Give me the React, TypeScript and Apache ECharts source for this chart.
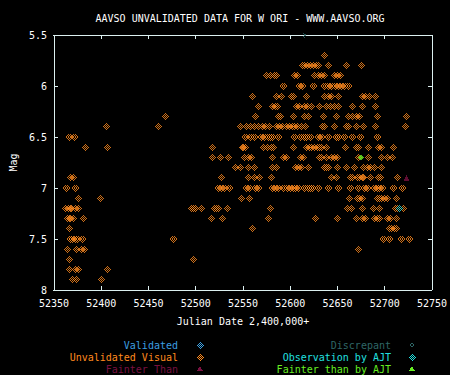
import React, { useEffect, useRef } from "react";
import * as echarts from "echarts";

// ---- data: Julian dates (2,400,000+) of unvalidated visual estimates, one array per magnitude row
const v57 = [52636];
const v58 = [52613, 52615, 52618, 52622, 52625, 52628, 52630, 52640, 52660, 52675];
const v59 = [52575, 52579, 52583, 52586, 52605, 52608, 52626, 52630, 52633, 52636, 52647, 52650, 52653];
const v60 = [52593, 52610, 52613, 52625, 52636, 52641, 52644, 52648, 52651, 52654, 52657, 52662];
const v61 = [52560, 52585, 52591, 52601, 52604, 52617, 52636, 52640, 52644, 52651, 52677, 52680, 52684, 52690];
const v62 = [52566, 52581, 52584, 52587, 52607, 52610, 52615, 52618, 52623, 52631, 52638, 52643, 52647, 52651, 52666, 52677, 52690];
const v63 = [52468, 52563, 52588, 52590, 52604, 52615, 52619, 52635, 52649, 52662, 52666, 52670, 52673, 52692, 52723];
const v64 = [52406, 52461, 52547, 52554, 52558, 52562, 52566, 52571, 52574, 52578, 52586, 52589, 52592, 52596, 52599, 52602, 52605, 52608, 52612, 52616, 52634, 52636, 52647, 52660, 52662, 52670, 52678, 52690, 52722];
const v65 = [52366, 52372, 52553, 52558, 52562, 52570, 52573, 52577, 52579, 52581, 52588, 52605, 52611, 52615, 52617, 52621, 52630, 52633, 52640, 52649, 52651, 52657, 52666, 52674, 52692];
const v66 = [52383, 52407, 52518, 52549, 52551, 52553, 52572, 52576, 52580, 52582, 52604, 52617, 52620, 52623, 52626, 52629, 52631, 52633, 52638, 52659, 52670, 52672, 52683, 52693, 52697, 52709];
const v67 = [52518, 52526, 52535, 52552, 52556, 52559, 52581, 52593, 52596, 52611, 52614, 52631, 52633, 52638, 52644, 52647, 52650, 52672, 52683, 52697, 52703, 52708];
const v68 = [52542, 52547, 52556, 52562, 52581, 52585, 52606, 52609, 52612, 52619, 52636, 52638, 52640, 52650, 52660, 52668, 52678, 52682, 52685, 52689, 52697];
const v69 = [52368, 52371, 52527, 52556, 52562, 52567, 52580, 52644, 52649, 52664, 52666, 52671, 52673, 52677, 52678, 52685, 52693, 52696, 52714];
const v70 = [52363, 52373, 52524, 52527, 52530, 52536, 52554, 52557, 52563, 52566, 52581, 52584, 52588, 52593, 52597, 52600, 52604, 52606, 52609, 52615, 52619, 52622, 52624, 52630, 52641, 52651, 52664, 52672, 52679, 52682, 52689, 52692, 52694, 52698, 52709, 52719];
const v71 = [52376, 52399, 52548, 52557, 52663, 52671, 52673, 52676, 52692, 52694, 52697, 52700, 52703, 52713];
const v72 = [52362, 52365, 52367, 52369, 52373, 52376, 52496, 52498, 52500, 52506, 52520, 52522, 52524, 52534, 52579, 52661, 52665, 52677, 52688, 52695, 52711, 52714, 52720];
const v73 = [52364, 52366, 52368, 52371, 52381, 52517, 52528, 52577, 52627, 52650, 52670, 52677, 52680, 52689, 52692, 52695, 52703, 52706, 52713];
const v74 = [52366, 52560, 52705, 52707, 52710, 52713];
const v75 = [52368, 52370, 52373, 52375, 52380, 52476, 52699, 52705, 52718, 52726];
const v76 = [52364, 52374, 52379, 52382, 52672];
const v77 = [52366, 52498];
const v78 = [52366, 52373, 52376, 52407];
const v79 = [52370, 52374, 52400];

const visualRows: [number, number[]][] = [
  [5.7, v57], [5.8, v58], [5.9, v59], [6.0, v60], [6.1, v61], [6.2, v62], [6.3, v63],
  [6.4, v64], [6.5, v65], [6.6, v66], [6.7, v67], [6.8, v68], [6.9, v69], [7.0, v70],
  [7.1, v71], [7.2, v72], [7.3, v73], [7.4, v74], [7.5, v75], [7.6, v76], [7.7, v77],
  [7.8, v78], [7.9, v79],
];

const discrepant = [[52615, 5.5]];
const fainterThan = [[52723, 6.9]];
const ajtObs = [[52716, 7.2]];
const ajtFainter = [[52675, 6.7]];

const TITLE = "AAVSO UNVALIDATED DATA FOR W ORI - WWW.AAVSO.ORG";
const X_NAME = "Julian Date 2,400,000+";
const Y_NAME = "Mag";

const FONT = '"DejaVu Sans Mono", "Liberation Mono", monospace';
const FRAME = "#dcf0f0";
const ORANGE = "#ff8a1e";
const BLUE = "#3c9ee0";
const MAROON = "#781040";
const TEAL = "#2e6666";
const CYAN = "#20e0e0";
const GREEN = "#66ee22";

// checkered diamond (7x7 pixel pattern)
const cells: [number, number][] = [
  [3, 0], [2, 1], [4, 1], [1, 2], [3, 2], [5, 2], [0, 3], [2, 3], [4, 3], [6, 3],
  [1, 4], [3, 4], [5, 4], [2, 5], [4, 5], [3, 6],
];
const CHK_D = cells.map(([c, r]) => `M${c} ${r}h1v1h-1z`).join("");
const CHK_SYMBOL = "path://" + CHK_D;

let registered = false;
function ensureShape() {
  if (registered) return;
  registered = true;
  echarts.graphic.registerShape("chkdiamond", echarts.graphic.extendPath(CHK_D, {}) as any);
}

export default function App() {
  const ref = useRef<HTMLDivElement>(null);
  useEffect(() => {
    if (!ref.current) return;
    ensureShape();
    const chart = echarts.init(ref.current, undefined, { renderer: "svg" });
    const visualData: number[][] = [];
    visualRows.forEach(([mag, jds]) => jds.forEach((jd) => visualData.push([jd, mag])));

    const axisLine = { onZero: false, lineStyle: { color: FRAME, width: 1 } };
    const axisTick = { inside: true, length: 4, lineStyle: { color: FRAME, width: 1 } };
    const labelStyle = { color: "#ffffff", fontFamily: FONT, fontSize: 10 };

    const legendText = (txt: string, x: number, y: number, color: string) => ({
      type: "text",
      x,
      y,
      style: { text: txt, fill: color, font: `10px ${FONT}`, textAlign: "right", textVerticalAlign: "middle" },
    });
    const legendDiamond = (cx: number, cy: number, color: string, s = 1) => ({
      type: "chkdiamond",
      x: cx - 3.5 * s,
      y: cy - 3.5 * s,
      scaleX: s,
      scaleY: s,
      style: { fill: color },
    });
    const legendTri = (cx: number, cy: number, color: string) => ({
      type: "polygon",
      shape: { points: [[cx, cy - 3], [cx + 3, cy + 2], [cx - 3, cy + 2]] },
      style: { fill: color },
    });

    chart.setOption({
      animation: false,
      backgroundColor: "#000000",
      grid: { left: 48, right: 17, top: 35, bottom: 85 },
      xAxis: [
        {
          type: "value", min: 52350, max: 52750, interval: 50, position: "bottom",
          axisLine, axisTick, splitLine: { show: false },
          axisLabel: {
            ...labelStyle, margin: 8, showMinLabel: true, showMaxLabel: true,
            formatter: (v: number) => String(v),
          },
          name: X_NAME, nameLocation: "middle", nameGap: 26,
          nameTextStyle: { ...labelStyle },
        },
        {
          type: "value", min: 52350, max: 52750, interval: 50, position: "top",
          axisLine, axisTick, splitLine: { show: false }, axisLabel: { show: false },
        },
      ],
      yAxis: [
        {
          type: "value", min: 5.5, max: 8, interval: 0.5, inverse: true, position: "left",
          axisLine, axisTick, splitLine: { show: false },
          axisLabel: { ...labelStyle, margin: 7 },
          name: Y_NAME, nameLocation: "middle", nameGap: 32,
          nameTextStyle: { ...labelStyle },
        },
        {
          type: "value", min: 5.5, max: 8, interval: 0.5, inverse: true, position: "right",
          axisLine, axisTick, splitLine: { show: false }, axisLabel: { show: false },
        },
      ],
      graphic: [
        {
          type: "text", x: 240, y: 18,
          style: { text: TITLE, fill: "#ffffff", font: `10px ${FONT}`, textAlign: "center", textVerticalAlign: "middle" },
        },
        legendText("Validated", 178, 345, BLUE),
        legendText("Unvalidated Visual", 178, 357, ORANGE),
        legendText("Fainter Than", 178, 369, MAROON),
        legendText("Discrepant", 391, 345, TEAL),
        legendText("Observation by AJT", 391, 357, CYAN),
        legendText("Fainter than by AJT", 391, 369, GREEN),
        legendDiamond(200, 345, BLUE),
        legendDiamond(200, 357, ORANGE),
        legendTri(200, 369, MAROON),
        legendDiamond(412, 345, TEAL, 0.72),
        legendDiamond(412, 357, CYAN),
        legendTri(412, 369, GREEN),
      ],
      series: [
        {
          type: "scatter", name: "Unvalidated Visual", data: visualData,
          symbol: CHK_SYMBOL, symbolSize: 7, itemStyle: { color: ORANGE }, silent: true,
        },
        {
          type: "scatter", name: "Fainter Than", data: fainterThan,
          symbol: "triangle", symbolSize: 6, itemStyle: { color: MAROON }, silent: true,
        },
        {
          type: "scatter", name: "Discrepant", data: discrepant,
          symbol: CHK_SYMBOL, symbolSize: 5, itemStyle: { color: TEAL }, silent: true,
        },
        {
          type: "scatter", name: "Observation by AJT", data: ajtObs,
          symbol: CHK_SYMBOL, symbolSize: 7, itemStyle: { color: CYAN }, silent: true,
        },
        {
          type: "scatter", name: "Fainter than by AJT", data: ajtFainter,
          symbol: "diamond", symbolSize: 6, itemStyle: { color: GREEN }, silent: true,
        },
      ],
    });
    return () => chart.dispose();
  }, []);
  return (
    <>
      <style>{`#awchart svg path { shape-rendering: crispEdges; }`}</style>
      <div
        id="awchart"
        ref={ref}
        style={{ position: "fixed", left: 0, top: 0, width: 450, height: 375, background: "#000" }}
      />
    </>
  );
}
